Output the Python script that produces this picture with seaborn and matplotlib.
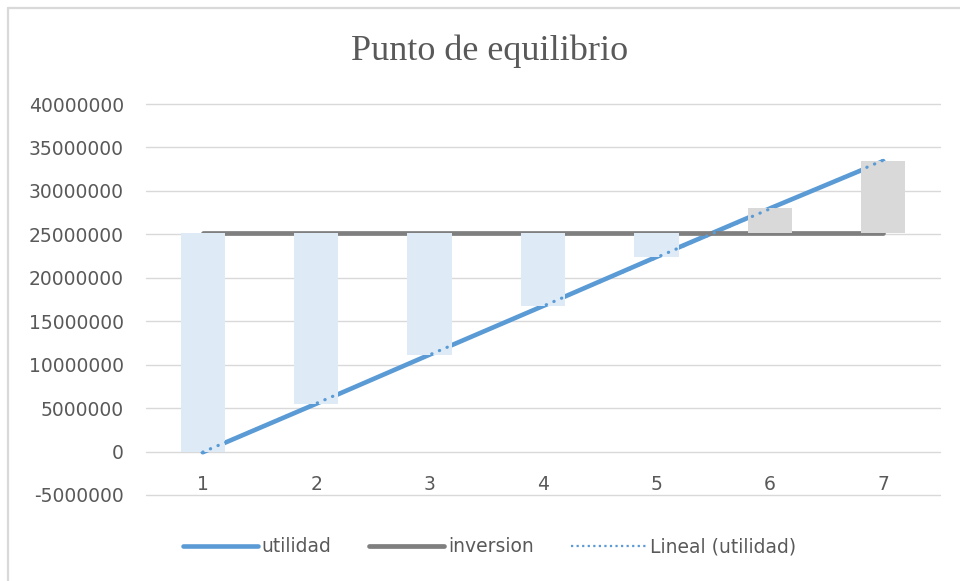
import numpy as np
import pandas as pd
import matplotlib
matplotlib.use('Agg')
import matplotlib.pyplot as plt
from matplotlib.lines import Line2D
import seaborn as sns

# data
periodos = [1, 2, 3, 4, 5, 6, 7]
utilidad = [-80000, 5500000, 11150000, 16750000, 22400000, 27980000, 33430000]
inversion = [25170000, 25170000, 25170000, 25170000, 25170000, 25170000, 25170000]
y_ticks = [-5000000, 0, 5000000, 10000000, 15000000, 20000000, 25000000,
           30000000, 35000000, 40000000]

df = pd.DataFrame({'periodo': periodos, 'utilidad': utilidad, 'inversion': inversion})

sns.set_theme(style='white')
plt.rcParams['font.family'] = ['DejaVu Sans']

blue = '#5B9BD5'
grey_line = '#7F7F7F'
grid_c = '#D9D9D9'
text_c = '#595959'

fig = plt.figure(figsize=(9.6, 5.81), dpi=100)
ax = fig.add_axes([146 / 960, 1 - 495 / 581, 794 / 960, 391 / 581])

# lines (under the up/down bars)
sns.lineplot(data=df, x='periodo', y='utilidad', ax=ax, color=blue, lw=3.3,
             zorder=2, legend=False)
sns.lineplot(data=df, x='periodo', y='inversion', ax=ax, color=grey_line, lw=3.4,
             zorder=2, legend=False)

# up / down bars between the two series
diff = df['utilidad'] - df['inversion']
bottoms = np.minimum(df['utilidad'], df['inversion'])
colors = ['#DEEBF7' if d < 0 else '#D9D9D9' for d in diff]
ax.bar(df['periodo'], diff.abs(), bottom=bottoms, width=0.39, color=colors,
       linewidth=0, zorder=3)

# linear trendline on top
m, b = np.polyfit(df['periodo'], df['utilidad'], 1)
xs = np.array([periodos[0], periodos[-1]])
ax.plot(xs, m * xs + b, color=blue, lw=2.3, linestyle=(0, (0.1, 2.5)),
        dash_capstyle='round', zorder=4)

ax.set_xlim(0.5, 7.5)
ax.set_ylim(-5000000, 40000000)
ax.set_yticks(y_ticks)
ax.set_yticklabels([str(v) for v in y_ticks])
ax.set_xticks(periodos)
ax.set_xticklabels([str(p) for p in periodos])
ax.set_xlabel('')
ax.set_ylabel('')

ax.grid(axis='y', color=grid_c, lw=1.0, zorder=0)
ax.grid(axis='x', visible=False)
for gl in ax.get_ygridlines():
    gl.set_clip_on(False)
for s in ['top', 'right', 'left']:
    ax.spines[s].set_visible(False)
ax.spines['bottom'].set_position(('data', 0))
ax.spines['bottom'].set_visible(False)
ax.tick_params(axis='y', length=0, pad=16, labelsize=13.5, labelcolor=text_c)
ax.tick_params(axis='x', length=0, pad=17, labelsize=13.5, labelcolor=text_c)

fig.text(0.51, 1 - 51 / 581, 'Punto de equilibrio', ha='center', va='center',
         fontsize=26, color=text_c, family=['Liberation Serif'])

handles = [
    Line2D([], [], color=blue, lw=3.3, solid_capstyle='round'),
    Line2D([], [], color=grey_line, lw=3.4, solid_capstyle='round'),
    Line2D([], [], color=blue, lw=1.6, linestyle=(0, (1, 1.5))),
]
fig.legend(handles, ['utilidad', 'inversion', 'Lineal (utilidad)'], ncol=3,
           loc='center', bbox_to_anchor=(0.51, 1 - 547 / 581), frameon=False,
           handlelength=4, handletextpad=0.2, columnspacing=2.0,
           prop={'size': 13.5}, labelcolor=text_c)

# chart frame (left and top edges visible in the reference)
fig.add_artist(Line2D([8 / 960, 8 / 960], [0, 1 - 8 / 581], color=grid_c, lw=1.6,
                      transform=fig.transFigure))
fig.add_artist(Line2D([8 / 960, 1], [1 - 8 / 581, 1 - 8 / 581], color=grid_c, lw=1.6,
                      transform=fig.transFigure))

fig.savefig('out.png', dpi=100)
